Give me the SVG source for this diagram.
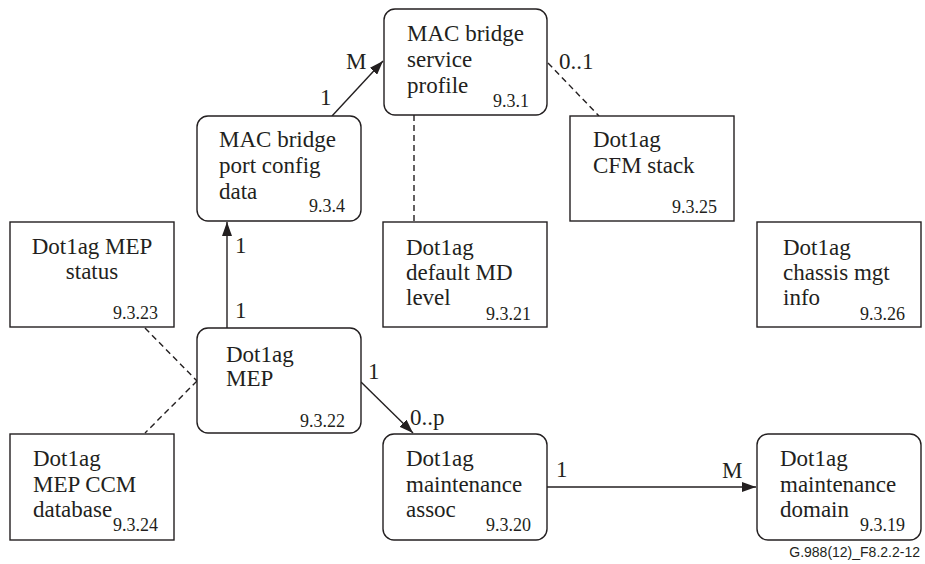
<svg xmlns="http://www.w3.org/2000/svg" width="925" height="564" viewBox="0 0 925 564">
<style>
.box{fill:#fff;stroke:#231f20;stroke-width:1.4}
.t{font-family:"Liberation Serif","Times New Roman",serif;font-size:23px;fill:#231f20}
.n{font-family:"Liberation Serif","Times New Roman",serif;font-size:18px;fill:#231f20;text-anchor:end}
.c{font-family:"Liberation Sans",Arial,sans-serif;font-size:14px;fill:#231f20;text-anchor:end}
.solid{stroke:#231f20;stroke-width:1.4;fill:none}
.dash{stroke:#231f20;stroke-width:1.4;fill:none;stroke-dasharray:6 4}
</style>
<defs>
<marker id="arr" markerWidth="14" markerHeight="10" refX="14" refY="5" orient="auto" markerUnits="userSpaceOnUse">
<path d="M0,0 L14,5 L0,10 Z" fill="#231f20"/>
</marker>
</defs>
<g id="connectors">
<line class="solid" x1="332" y1="116" x2="383" y2="61" marker-end="url(#arr)"/>
<line class="solid" x1="227" y1="328" x2="227" y2="222" marker-end="url(#arr)"/>
<line class="solid" x1="361" y1="382" x2="413" y2="433" marker-end="url(#arr)"/>
<line class="solid" x1="547" y1="487" x2="756" y2="487" marker-end="url(#arr)"/>
<line class="dash" x1="414" y1="115" x2="414" y2="222"/>
<line class="dash" x1="548" y1="63" x2="599" y2="116"/>
<line class="dash" x1="145" y1="328" x2="197" y2="381"/>
<line class="dash" x1="197" y1="381" x2="145" y2="433"/>
<text class="t" x="346" y="69">M</text>
<text class="t" x="320" y="105">1</text>
<text class="t" x="559" y="69">0..1</text>
<text class="t" x="235" y="253">1</text>
<text class="t" x="235" y="318">1</text>
<text class="t" x="368" y="379">1</text>
<text class="t" x="410" y="425">0..p</text>
<text class="t" x="556" y="477">1</text>
<text class="t" x="722" y="478">M</text>
</g>
<g id="n931">
<rect class="box" x="384" y="9" width="163" height="106" rx="11"/>
<text class="t" x="407" y="41">MAC bridge</text>
<text class="t" x="407" y="67">service</text>
<text class="t" x="407" y="93">profile</text>
<text class="n" x="529" y="107">9.3.1</text>
</g>
<g id="n934">
<rect class="box" x="197" y="116" width="164" height="105" rx="11"/>
<text class="t" x="219" y="147">MAC bridge</text>
<text class="t" x="219" y="173">port config</text>
<text class="t" x="219" y="199">data</text>
<text class="n" x="345" y="212">9.3.4</text>
</g>
<g id="n9325">
<rect class="box" x="570" y="116" width="164" height="105"/>
<text class="t" x="593" y="147">Dot1ag</text>
<text class="t" x="593" y="173">CFM stack</text>
<text class="n" x="717" y="213">9.3.25</text>
</g>
<g id="n9323">
<rect class="box" x="10" y="222" width="164" height="105"/>
<text class="t" x="92" y="254" text-anchor="middle">Dot1ag MEP</text>
<text class="t" x="92" y="279" text-anchor="middle">status</text>
<text class="n" x="158" y="319">9.3.23</text>
</g>
<g id="n9321">
<rect class="box" x="383" y="222" width="164" height="105"/>
<text class="t" x="406" y="255">Dot1ag</text>
<text class="t" x="406" y="280">default MD</text>
<text class="t" x="406" y="305">level</text>
<text class="n" x="531" y="320">9.3.21</text>
</g>
<g id="n9326">
<rect class="box" x="757" y="222" width="164" height="105"/>
<text class="t" x="783" y="255">Dot1ag</text>
<text class="t" x="783" y="280">chassis mgt</text>
<text class="t" x="783" y="305">info</text>
<text class="n" x="905" y="320">9.3.26</text>
</g>
<g id="n9322">
<rect class="box" x="197" y="328" width="164" height="105" rx="11"/>
<text class="t" x="226" y="362">Dot1ag</text>
<text class="t" x="226" y="386">MEP</text>
<text class="n" x="345" y="427">9.3.22</text>
</g>
<g id="n9324">
<rect class="box" x="10" y="434" width="164" height="106"/>
<text class="t" x="33" y="466">Dot1ag</text>
<text class="t" x="33" y="492">MEP CCM</text>
<text class="t" x="33" y="517">database</text>
<text class="n" x="158" y="531">9.3.24</text>
</g>
<g id="n9320">
<rect class="box" x="383" y="434" width="164" height="106" rx="11"/>
<text class="t" x="406" y="466">Dot1ag</text>
<text class="t" x="406" y="492">maintenance</text>
<text class="t" x="406" y="517">assoc</text>
<text class="n" x="531" y="531">9.3.20</text>
</g>
<g id="n9319">
<rect class="box" x="757" y="434" width="164" height="106" rx="11"/>
<text class="t" x="780" y="466">Dot1ag</text>
<text class="t" x="780" y="492">maintenance</text>
<text class="t" x="780" y="517">domain</text>
<text class="n" x="905" y="531">9.3.19</text>
</g>
<text class="c" x="920" y="557">G.988(12)_F8.2.2-12</text>
</svg>
